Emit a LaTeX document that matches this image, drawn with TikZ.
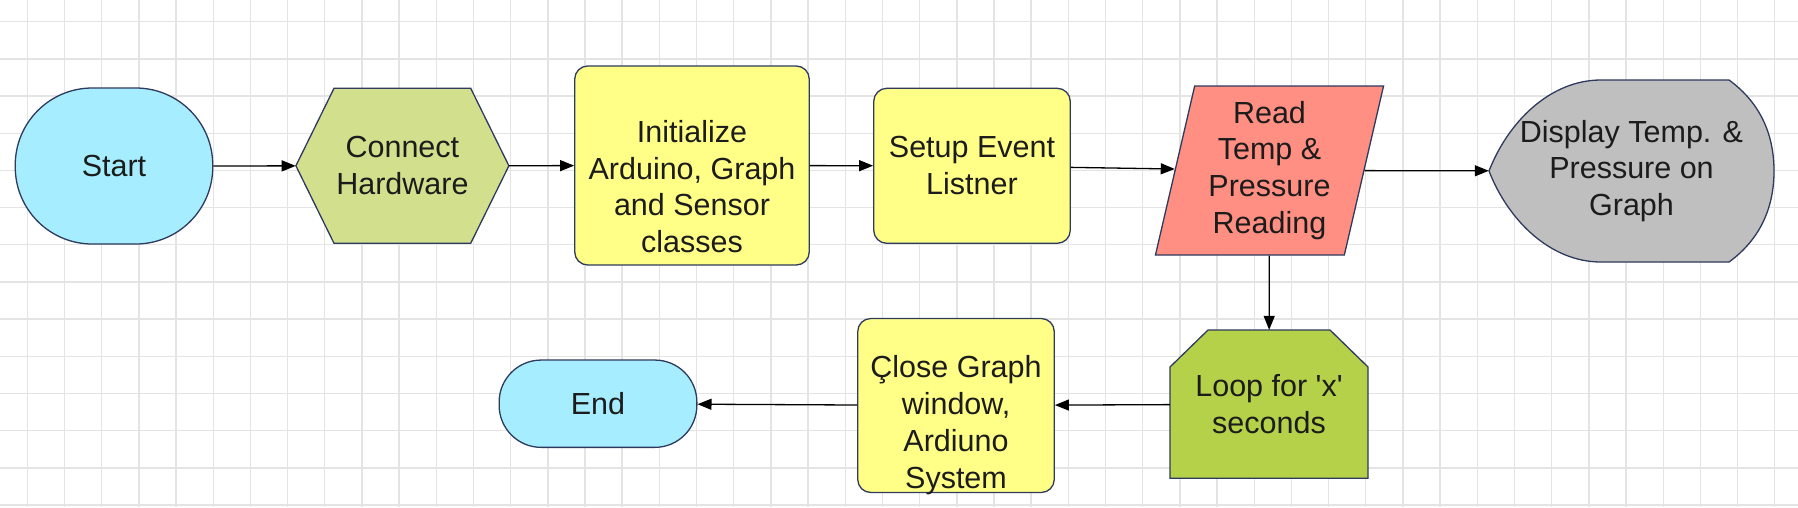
\documentclass[tikz,border=0pt]{standalone}
\usepackage{fontspec}
\setmainfont{Liberation Sans}
\usetikzlibrary{shapes.geometric,arrows.meta}

\definecolor{termcol}{HTML}{A6EEFF}
\definecolor{hexcol}{HTML}{D2DF8D}
\definecolor{boxcol}{HTML}{FFFF88}
\definecolor{iocol}{HTML}{FF8F82}
\definecolor{dispcol}{HTML}{BFBFBF}
\definecolor{loopcol}{HTML}{B5D14A}
\definecolor{edgecol}{HTML}{2E3A5E}
\definecolor{gridcol}{HTML}{E4E4E4}
\definecolor{txtcol}{HTML}{1C1C1C}

\begin{document}
\begin{tikzpicture}[x=1pt,y=-1pt]
      \tikzset{
        every node/.style={font=\fontsize{30.5pt}{36.8pt}\selectfont,text=txtcol,align=center},
        shapeline/.style={draw=edgecol,line width=1.3pt},
        terminal/.style={shapeline,fill=termcol,rectangle,minimum width=197.5pt},
        procbox/.style={shapeline,fill=boxcol,rounded corners=13pt,minimum width=196.5pt},
        iobox/.style={shapeline,fill=iocol,trapezium,trapezium left angle=77,trapezium right angle=103,
          trapezium stretches=true,minimum width=228.5pt,minimum height=169pt,inner sep=1pt},
        flow/.style={draw=black,line width=1.3pt,-{Triangle[length=14pt,width=11pt]}},
        gridline/.style={draw=gridcol,line width=1.4pt}
      }

      \useasboundingbox (0,0) rectangle (1798,507);
      \fill[white] (0,0) rectangle (1798,507);
      \foreach \gx in {0,...,47}
        \draw[gridline] ({27.3+37.18*\gx},0) -- ({27.3+37.18*\gx},507);
      \foreach \gy in {0,...,13}
        \draw[gridline] (0,{21.7+37.18*\gy}) -- (1798,{21.7+37.18*\gy});

      % outlines drawn by hand
      \filldraw[shapeline,fill=hexcol] (295.9,165.8) -- (334,88.3) -- (470.7,88.3) -- (508.9,165.8)
        -- (470.7,243.3) -- (334,243.3) -- cycle;
      \filldraw[shapeline,fill=dispcol] (1601,80) .. controls (1550,80) and (1508,122) .. (1489,171)
        .. controls (1508,220) and (1550,262) .. (1601,262) -- (1729,262)
        .. controls (1762,238) and (1774,205) .. (1774,171)
        .. controls (1774,137) and (1762,104) .. (1729,80) -- cycle;
      \filldraw[shapeline,fill=loopcol] (1170,478.3) -- (1170,367) -- (1208,330) -- (1330,330)
        -- (1368,367) -- (1368,478.3) -- cycle;

      % top row
      \node[terminal,minimum height=156pt,rounded corners=77pt] (start) at (114,166) {Start};
      \node[minimum width=213pt,minimum height=155pt] (connect) at (402.4,165.8) {Connect\\Hardware};
      \node[procbox,minimum width=234.5pt,minimum height=199pt] (init) at (692,165.5) {};
      \node (inittext) at ([yshift=-21pt]init.center) {Initialize\\Arduino, Graph\\and Sensor\\classes};
      \node[procbox,minimum height=155pt] (setup) at (972,165.8) {Setup Event\\Listner};
      \node[iobox] (read) at (1269.5,170.5) {Read\\Temp \&\\Pressure\\Reading};
      \node[minimum width=285pt,minimum height=182pt] (disp) at (1631.5,171) {Display Temp. \&\\Pressure on\\Graph};

      % bottom row
      \node[minimum width=198pt,minimum height=148.3pt] (loop) at (1269,404.2) {Loop for \textquotesingle x\textquotesingle\\seconds};
      \node[procbox,minimum height=174pt] (close) at (956,405.5) {};
      \node (closetext) at ([yshift=-19.5pt]close.center) {Çlose Graph\\window,\\Ardiuno\\System};
      \node[terminal,minimum width=197.7pt,minimum height=87.3pt,rounded corners=42pt] (end) at (598,403.7) {End};

      \draw[flow] (start) -- (connect);
      \draw[flow] (connect) -- (init);
      \draw[flow] (init) -- (setup);
      \draw[flow] (setup) -- (read);
      \draw[flow] (read) -- (disp);
      \draw[flow] (read) -- (loop);
      \draw[flow] (loop) -- (close);
      \draw[flow] (close) -- (end);
    \end{tikzpicture}
\end{document}
